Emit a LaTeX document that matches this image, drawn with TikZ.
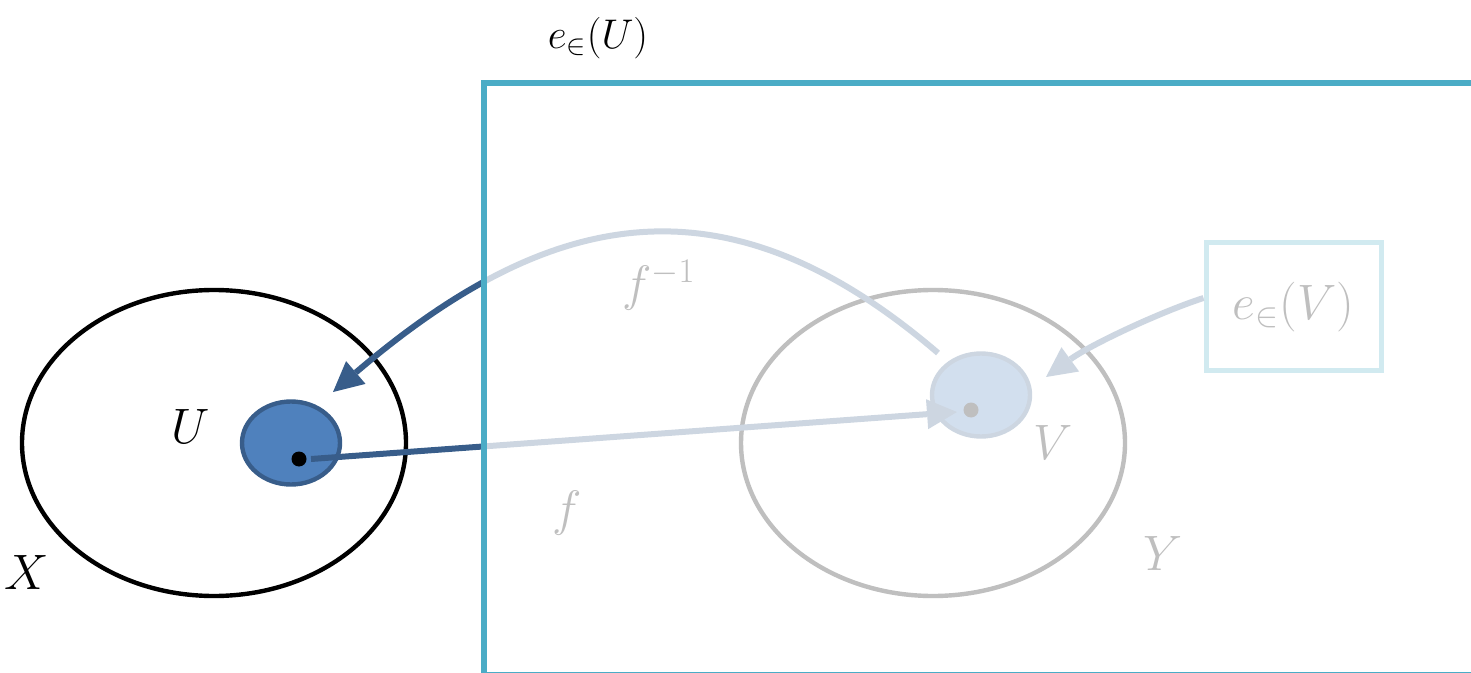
\documentclass[tikz,border=0pt]{standalone}
\usetikzlibrary{shapes.geometric,arrows.meta}
\definecolor{darkarrow}{HTML}{385D8A}
\definecolor{ufill}{HTML}{4F81BD}
\definecolor{rectblue}{HTML}{4BACC6}
\begin{document}
\begin{tikzpicture}[x=0.5pt,y=-0.5pt,
  lbl/.style={font=\fontsize{23}{28}\selectfont, inner sep=0pt},
  bigset/.style={draw=black, ellipse, line width=2.2pt, inner sep=0pt, minimum width=192pt, minimum height=153pt},
  smallset/.style={draw=darkarrow, fill=ufill, ellipse, line width=2.2pt, inner sep=0pt, minimum width=49pt, minimum height=41.5pt},
  pt/.style={circle, fill=black, inner sep=0pt, minimum size=7.5pt},
  arr/.style={line width=3pt, draw=darkarrow, -{Triangle[length=15pt,width=15pt,line width=0pt]}},
  frame/.style={draw=rectblue, line width=3pt}
]
\useasboundingbox (0,0) rectangle (1471,673);
\clip (0,0) rectangle (1471,673);

% sets
\node[bigset] (X) at (214,443) {};
\node[bigset] (Y) at (933,443) {};
\node[smallset] (U) at (291,443) {};
\node[smallset] (V) at (981,395) {};
\node[pt] (pU) at (299,459) {};
\node[pt] (pV) at (971,410) {};

% labels
\node[lbl] (lX) at (27,572) {$X$};
\node[lbl] (lU) at (191,426) {$U$};
\node[lbl] (lV) at (1053,442) {$V$};
\node[lbl] (lY) at (1163,553) {$Y$};
\node[lbl] (lf) at (567,513) {$f$};
\node[lbl] (lfi) at (659,285) {$f^{-1}$};

% e(V) box
\node[draw=rectblue, line width=2.5pt, minimum width=87.5pt, minimum height=64pt, inner sep=0pt,
      font=\fontsize{23}{28}\selectfont] (eV) at (1293.5,307) {$e_{\in}(V)$};

% arrows
\coordinate (tipF) at (957,412);
\coordinate (startFi) at (938,353);
\coordinate (tipFi) at (333,392);
\coordinate (tipE) at (1046,377);
\draw[arr] ([xshift=6pt]pU.center) -- (tipF);
\draw[arr] (startFi) .. controls (728,173) and (553,204) .. (tipFi);
\draw[arr] ([yshift=4.5pt]eV.west) .. controls (1160,312) and (1090,345) .. (tipE);

% fading frame
\fill[white, opacity=0.75] (483.5,83) rectangle (1480,674.5);
\draw[frame] (483.5,83) rectangle (1480,674.5);

\node[font=\fontsize{20}{24}\selectfont, inner sep=0pt] (eU) at (598,38) {$e_{\in}(U)$};
\end{tikzpicture}
\end{document}
